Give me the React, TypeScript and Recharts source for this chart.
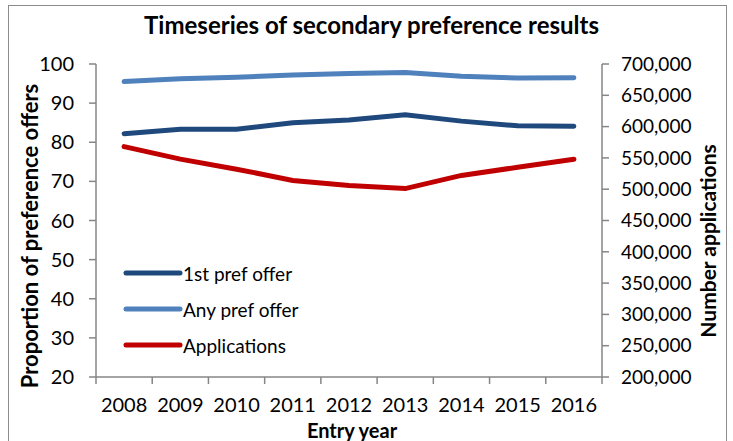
import { LineChart, Line, XAxis, YAxis, Label } from 'recharts';

// Values
const years = ['2008', '2009', '2010', '2011', '2012', '2013', '2014', '2015', '2016'];
const firstPref = [82.2, 83.3, 83.3, 85.0, 85.7, 87.0, 85.4, 84.2, 84.1];
const anyPref = [95.5, 96.2, 96.6, 97.2, 97.6, 97.8, 96.9, 96.4, 96.5];
const applications = [568000, 548000, 532000, 514000, 506000, 501000, 522000, 535000, 548000];

const leftTicks = [20, 30, 40, 50, 60, 70, 80, 90, 100];
const rightTicks = [200000, 250000, 300000, 350000, 400000, 450000, 500000, 550000, 600000, 650000, 700000];

const data = years.map((y, i) => ({
  year: Number(y),
  first: firstPref[i],
  any: anyPref[i],
  apps: applications[i],
}));

// ticks at category centres (labels) and boundaries (tick marks), Excel style
const xTicks: number[] = [];
years.forEach((y) => {
  xTicks.push(Number(y) - 0.5);
  xTicks.push(Number(y));
});
xTicks.push(Number(years[years.length - 1]) + 0.5);

const FONT = 'Lato, "Open Sans", sans-serif';
const AXIS = '#868686';

const SERIES = [
  { key: 'first', name: '1st pref offer', color: '#1F497D', axis: 'left' },
  { key: 'any', name: 'Any pref offer', color: '#4F81BD', axis: 'left' },
  { key: 'apps', name: 'Applications', color: '#C00000', axis: 'right' },
];

const XTick = (props: any) => {
  const { x, y, payload } = props;
  const v = payload.value;
  if (Number.isInteger(v)) {
    return (
      <text x={x} y={y + 35} textAnchor="middle" fontSize={20} fill="#000" fontFamily={FONT}>
        {String(v)}
      </text>
    );
  }
  return <line x1={x} x2={x} y1={y} y2={y + 7} stroke={AXIS} strokeWidth={1.5} />;
};

export default function App() {
  return (
    <div style={{ position: 'absolute', left: 0, top: 0, width: 733, height: 441, background: '#fff', overflow: 'hidden' }}>
      <div
        style={{
          position: 'absolute',
          left: 8,
          top: 5,
          width: 719,
          height: 460,
          border: '1.5px solid #8c8c8c',
          boxSizing: 'border-box',
        }}
      />
      <div
        style={{
          position: 'absolute',
          left: 0,
          top: 10,
          width: 733,
          textAlign: 'center',
          fontFamily: FONT,
          fontWeight: 700,
          fontSize: 24,
          color: '#000',
          paddingLeft: 10,
          boxSizing: 'border-box',
        }}
      >
        Timeseries of secondary preference results
      </div>
      <LineChart
        width={733}
        height={441}
        data={data}
        margin={{ top: 64, right: 40, bottom: 0, left: 0 }}
        style={{ position: 'absolute', left: 0, top: 0, fontFamily: FONT }}
      >
        <XAxis
          dataKey="year"
          type="number"
          domain={[xTicks[0], xTicks[xTicks.length - 1]]}
          ticks={xTicks}
          interval={0}
          tick={<XTick />}
          tickLine={false}
          tickSize={0}
          tickMargin={0}
          height={64}
          axisLine={{ stroke: AXIS, strokeWidth: 1.5 }}
        >
          <Label
            content={() => (
              <text x={352} y={438} textAnchor="middle" fontSize={20} fontWeight={700} fontFamily={FONT} fill="#000">
                Entry year
              </text>
            )}
          />
        </XAxis>
        <YAxis
          yAxisId="left"
          domain={[20, 100]}
          ticks={leftTicks}
          interval={0}
          width={96}
          tickSize={7}
          tickMargin={15}
          tick={{ fill: '#000', fontSize: 20, fontFamily: FONT }}
          tickLine={{ stroke: AXIS, strokeWidth: 1.5 }}
          axisLine={{ stroke: AXIS, strokeWidth: 1.5 }}
        >
          <Label
            content={() => (
              <text
                x={0}
                y={0}
                transform="translate(38,236) rotate(-90)"
                textAnchor="middle"
                fontSize={22}
                fontWeight={700}
                fontFamily={FONT}
                fill="#000"
              >
                Proportion of preference offers
              </text>
            )}
          />
        </YAxis>
        <YAxis
          yAxisId="right"
          orientation="right"
          domain={[200000, 700000]}
          ticks={rightTicks}
          interval={0}
          width={91}
          tickSize={7}
          tickMargin={12}
          tickFormatter={(v: number) => v.toLocaleString('en-US')}
          tick={{ fill: '#000', fontSize: 19, fontFamily: FONT }}
          tickLine={{ stroke: AXIS, strokeWidth: 1.5 }}
          axisLine={{ stroke: AXIS, strokeWidth: 1.5 }}
        >
          <Label
            content={() => (
              <text
                x={0}
                y={0}
                transform="translate(716,241) rotate(-90)"
                textAnchor="middle"
                fontSize={21}
                fontWeight={700}
                fontFamily={FONT}
                fill="#000"
              >
                Number applications
              </text>
            )}
          />
        </YAxis>
        {SERIES.map((s) => (
          <Line
            key={s.key}
            yAxisId={s.axis}
            dataKey={s.key}
            name={s.name}
            stroke={s.color}
            strokeWidth={5}
            strokeLinecap="round"
            dot={false}
            isAnimationActive={false}
          />
        ))}
      </LineChart>
      {/* legend sits inside the plot area, as in the original */}
      <div style={{ position: 'absolute', left: 123, top: 255, fontFamily: FONT, fontSize: 19, color: '#000' }}>
        {SERIES.map((s) => (
          <div key={s.key} style={{ display: 'flex', alignItems: 'center', height: 36 }}>
            <svg width={60} height={10}>
              <line x1={3} x2={57} y1={5} y2={5} stroke={s.color} strokeWidth={5} strokeLinecap="round" />
            </svg>
            <span>{s.name}</span>
          </div>
        ))}
      </div>
    </div>
  );
}
